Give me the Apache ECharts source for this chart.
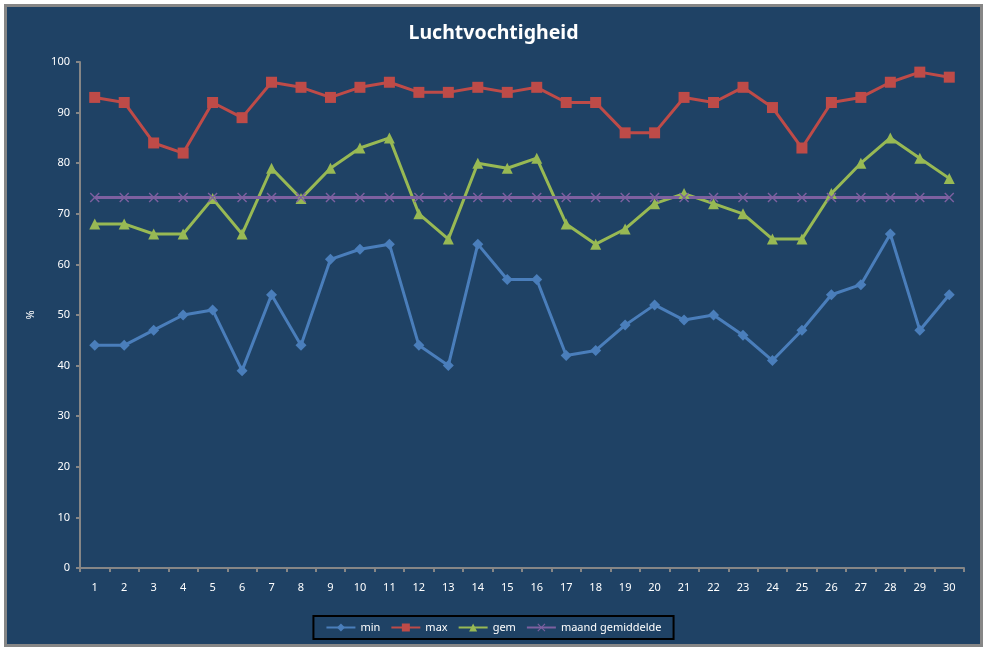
<!DOCTYPE html>
<html>
<head>
<meta charset="utf-8">
<script src="https://cdn.jsdelivr.net/npm/echarts@6/dist/echarts.min.js"></script>
<style>
  html, body { margin: 0; padding: 0; background: #ffffff; }
  #chart-container {
    position: absolute; left: 4px; top: 4px;
    width: 973px; height: 637px;
    border: 3px solid #868686;
    background: #1f4265;
  }
</style>
</head>
<body>
<div id="chart-container"></div>
<script>
  const days = [];
  for (let i = 1; i <= 30; i++) days.push(String(i));

  const minValues = [44, 44, 47, 50, 51, 39, 54, 44, 61, 63, 64, 44, 40, 64, 57, 57, 42, 43, 48, 52, 49, 50, 46, 41, 47, 54, 56, 66, 47, 54];
  const maxValues = [93, 92, 84, 82, 92, 89, 96, 95, 93, 95, 96, 94, 94, 95, 94, 95, 92, 92, 86, 86, 93, 92, 95, 91, 83, 92, 93, 96, 98, 97];
  const gemValues = [68, 68, 66, 66, 73, 66, 79, 73, 79, 83, 85, 70, 65, 80, 79, 81, 68, 64, 67, 72, 74, 72, 70, 65, 65, 74, 80, 85, 81, 77];
  const maandGemiddelde = [73.2, 73.2, 73.2, 73.2, 73.2, 73.2, 73.2, 73.2, 73.2, 73.2, 73.2, 73.2, 73.2, 73.2, 73.2, 73.2, 73.2, 73.2, 73.2, 73.2, 73.2, 73.2, 73.2, 73.2, 73.2, 73.2, 73.2, 73.2, 73.2, 73.2];

  var dom = document.getElementById("chart-container");
  var myChart = echarts.init(dom, null, { renderer: "canvas" });

  const font = "Noto Sans, DejaVu Sans, sans-serif";
  const crossSymbol = "path://M0,1L1,0L5,4L9,0L10,1L6,5L10,9L9,10L5,6L1,10L0,9L4,5Z";

  var option = {
    textStyle: { fontFamily: font },
    title: {
      text: "Luchtvochtigheid",
      left: "center",
      top: 11,
      textStyle: { color: "#ffffff", fontSize: 19.5, fontWeight: "bold", fontFamily: font },
    },
    grid: { left: 73, right: 16, top: 55, bottom: 76 },
    legend: {
      bottom: 5,
      left: "center",
      borderColor: "#000000",
      borderWidth: 2,
      padding: [6, 12, 6, 12],
      itemGap: 10,
      itemWidth: 29,
      itemHeight: 10,
      textStyle: { color: "#ffffff", fontSize: 11, fontFamily: font },
      data: ["min", "max", "gem", "maand gemiddelde"],
    },
    xAxis: {
      type: "category",
      data: days,
      boundaryGap: true,
      axisLine: { lineStyle: { color: "#868686", width: 2 } },
      axisTick: { show: true, length: 4, lineStyle: { color: "#868686", width: 2 } },
      axisLabel: { color: "#ffffff", fontSize: 11, margin: 14, interval: 0 },
      splitLine: { show: false },
    },
    yAxis: {
      type: "value",
      min: 0,
      max: 100,
      interval: 10,
      name: "%",
      nameLocation: "middle",
      nameGap: 44,
      nameRotate: 90,
      nameTextStyle: { color: "#ffffff", fontSize: 11 },
      axisLine: { show: true, lineStyle: { color: "#868686", width: 2 } },
      axisTick: { show: true, length: 4, lineStyle: { color: "#868686", width: 2 } },
      axisLabel: { color: "#ffffff", fontSize: 11, margin: 10 },
      splitLine: { show: false },
    },
    series: [
      {
        name: "min",
        type: "line",
        data: minValues,
        symbol: "diamond",
        symbolSize: 11,
        lineStyle: { color: "#4a7ebb", width: 3 },
        itemStyle: { color: "#4a7ebb" },
      },
      {
        name: "max",
        type: "line",
        data: maxValues,
        symbol: "rect",
        symbolSize: 11,
        lineStyle: { color: "#be4b48", width: 3 },
        itemStyle: { color: "#be4b48" },
      },
      {
        name: "gem",
        type: "line",
        data: gemValues,
        symbol: "triangle",
        symbolSize: 11,
        lineStyle: { color: "#98b954", width: 3 },
        itemStyle: { color: "#98b954" },
      },
      {
        name: "maand gemiddelde",
        type: "line",
        data: maandGemiddelde,
        symbol: crossSymbol,
        symbolSize: 10,
        lineStyle: { color: "#7d60a0", width: 3 },
        itemStyle: { color: "#7d60a0" },
      },
    ],
  };

  myChart.setOption(option);
  window.addEventListener("resize", myChart.resize);
</script>
</body>
</html>
